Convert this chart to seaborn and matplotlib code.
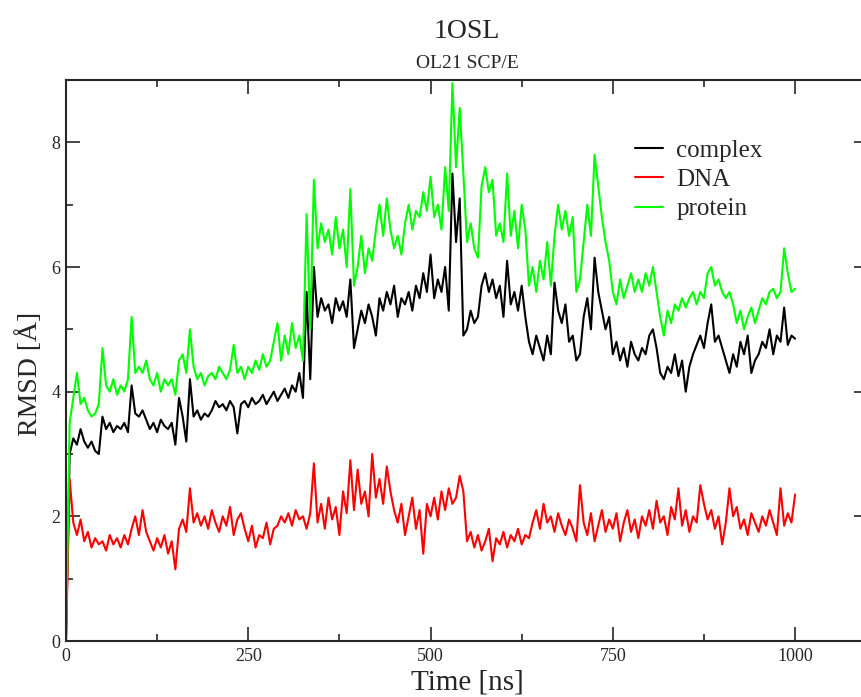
import numpy as np
import pandas as pd
import seaborn as sns
import matplotlib
import matplotlib.pyplot as plt
from matplotlib.ticker import MultipleLocator
matplotlib.use('Agg')

# time grid, one sample every 5 ns
time_ns = np.arange(0, 1001, 5)

# RMSD values (Angstrom)
complex_rmsd = [
    0.0, 3.0, 3.25, 3.15, 3.4, 3.2, 3.1, 3.2, 3.05, 3.0,
    3.6, 3.4, 3.5, 3.35, 3.45, 3.4, 3.5, 3.35, 4.1, 3.65,
    3.6, 3.7, 3.55, 3.4, 3.5, 3.35, 3.55, 3.45, 3.4, 3.5,
    3.15, 3.9, 3.6, 3.2, 4.2, 3.6, 3.7, 3.55, 3.65, 3.6,
    3.7, 3.85, 3.75, 3.8, 3.7, 3.85, 3.75, 3.33, 3.8, 3.85,
    3.75, 3.9, 3.8, 3.85, 3.95, 3.8, 3.9, 4.0, 3.85, 3.95,
    4.05, 3.9, 4.1, 4.0, 4.3, 3.9, 5.6, 4.2, 6.0, 5.2,
    5.5, 5.3, 5.4, 5.1, 5.5, 5.3, 5.45, 5.2, 5.8, 4.7,
    5.0, 5.3, 5.1, 5.4, 5.2, 4.9, 5.5, 5.3, 5.6, 5.4,
    5.7, 5.2, 5.5, 5.4, 5.6, 5.3, 5.7, 5.5, 5.9, 5.6,
    6.2, 5.5, 5.8, 5.6, 6.0, 5.3, 7.5, 6.4, 7.1, 4.9,
    5.0, 5.3, 5.1, 5.2, 5.7, 5.9, 5.6, 5.8, 5.5, 5.7,
    5.2, 6.1, 5.4, 5.6, 5.3, 5.7, 5.2, 4.8, 4.6, 4.9,
    4.7, 4.5, 4.9, 4.6, 5.75, 5.3, 5.1, 5.4, 4.8, 4.9,
    4.5, 4.6, 5.2, 5.5, 5.0, 6.15, 5.6, 5.3, 5.0, 5.2,
    4.6, 4.8, 4.5, 4.7, 4.4, 4.8, 4.6, 4.5, 4.7, 4.6,
    4.9, 5.0, 4.7, 4.3, 4.2, 4.4, 4.3, 4.6, 4.25, 4.5,
    4.0, 4.4, 4.6, 4.75, 4.9, 4.7, 5.1, 5.4, 4.8, 4.9,
    4.7, 4.5, 4.3, 4.6, 4.4, 4.8, 4.6, 4.9, 4.3, 4.5,
    4.6, 4.8, 4.7, 5.0, 4.6, 4.9, 4.8, 5.35, 4.75, 4.9,
    4.85,
]
dna_rmsd = [
    0.0, 2.6, 1.9, 1.7, 1.95, 1.6, 1.75, 1.5, 1.65, 1.55,
    1.6, 1.45, 1.7, 1.55, 1.65, 1.5, 1.7, 1.55, 1.8, 2.0,
    1.7, 2.1, 1.75, 1.6, 1.45, 1.65, 1.5, 1.7, 1.4, 1.6,
    1.15, 1.8, 1.95, 1.75, 2.45, 1.9, 2.05, 1.85, 2.0, 1.8,
    2.1, 1.9, 1.75, 2.0, 1.85, 2.15, 1.7, 1.95, 2.05, 1.8,
    1.6, 1.85, 1.5, 1.7, 1.65, 1.9, 1.55, 1.8, 1.85, 2.0,
    1.9, 2.05, 1.85, 2.1, 1.95, 2.0, 1.8, 2.05, 2.85, 1.9,
    2.2, 1.8, 2.3, 1.95, 2.15, 1.7, 2.4, 2.05, 2.9, 2.1,
    2.75, 2.2, 2.4, 2.0, 3.0, 2.3, 2.6, 2.2, 2.8, 2.4,
    2.1, 1.9, 2.2, 1.7, 2.0, 2.3, 1.8, 2.1, 1.4, 2.2,
    2.0, 2.3, 1.95, 2.4, 2.1, 2.45, 2.2, 2.3, 2.65, 2.4,
    1.6, 1.75, 1.5, 1.7, 1.45, 1.6, 1.8, 1.28, 1.65, 1.55,
    1.75, 1.5, 1.7, 1.6, 1.8, 1.55, 1.7, 1.65, 1.9, 2.1,
    1.8, 2.2, 1.9, 2.0, 1.75, 2.05, 1.85, 1.7, 1.95, 1.8,
    1.6, 2.5, 1.9, 1.7, 2.05, 1.6, 1.85, 2.1, 1.75, 1.95,
    1.8, 2.05, 1.6, 1.9, 2.1, 1.75, 1.95, 1.65, 2.0, 1.85,
    2.1, 1.8, 2.25, 1.9, 2.0, 1.7, 2.15, 1.95, 2.45, 1.85,
    2.1, 1.75, 2.0, 1.9, 2.5, 2.2, 1.95, 2.1, 1.8, 2.0,
    1.55, 1.9, 2.45, 2.0, 2.15, 1.8, 1.95, 1.7, 2.05, 1.9,
    1.75, 2.0, 1.85, 2.1, 1.9, 1.7, 2.45, 1.85, 2.05, 1.9,
    2.35,
]
protein_rmsd = [
    0.0, 3.5, 3.9, 4.3, 3.8, 3.9, 3.7, 3.6, 3.65, 3.8,
    4.7, 4.1, 4.0, 4.2, 3.95, 4.1, 4.0, 4.2, 5.2, 4.3,
    4.4, 4.3, 4.5, 4.2, 4.1, 4.3, 4.0, 4.2, 4.1, 4.2,
    3.95, 4.5, 4.6, 4.3, 5.0, 4.4, 4.2, 4.3, 4.1, 4.25,
    4.3, 4.2, 4.4, 4.3, 4.2, 4.35, 4.75, 4.3, 4.4, 4.2,
    4.4, 4.3, 4.5, 4.35, 4.6, 4.4, 4.5, 4.8, 5.1, 4.5,
    4.9, 4.6, 5.1, 4.7, 4.9, 4.5, 6.85, 5.0, 7.4, 6.3,
    6.7, 6.4, 6.6, 6.2, 6.8, 6.3, 6.6, 6.0, 7.25, 5.7,
    6.0, 6.5, 5.9, 6.3, 6.1, 6.6, 7.0, 6.5, 7.1, 6.6,
    6.3, 6.5, 6.2, 6.7, 7.0, 6.6, 6.9, 6.8, 7.2, 6.9,
    7.45, 6.8, 7.0, 6.6, 7.6, 6.9, 8.95, 7.6, 8.55, 7.5,
    6.4, 6.7, 6.3, 6.15, 7.3, 7.6, 7.2, 7.4, 6.5, 6.7,
    6.4, 7.5, 6.5, 6.9, 6.3, 7.0, 6.6, 5.7, 6.0, 5.6,
    6.1, 5.8, 6.4, 5.7, 6.5, 7.0, 6.6, 6.9, 6.5, 6.8,
    5.6, 5.8, 6.4, 7.0, 6.5, 7.8, 7.3, 6.8, 6.4, 6.1,
    5.6, 5.4, 5.8, 5.5, 5.7, 5.9, 5.6, 5.8, 5.6, 5.9,
    5.7, 6.0, 5.6, 5.2, 4.9, 5.3, 5.1, 5.4, 5.3, 5.5,
    5.35, 5.5, 5.6, 5.4, 5.6, 5.5, 5.9, 6.0, 5.7, 5.8,
    5.6, 5.5, 5.6, 5.4, 5.1, 5.3, 5.0, 5.2, 5.35, 5.1,
    5.3, 5.5, 5.4, 5.6, 5.65, 5.5, 5.6, 6.3, 5.9, 5.6,
    5.65,
]

series_names = ['complex', 'DNA', 'protein']
series_colors = {'complex': '#000000', 'DNA': '#ff0000', 'protein': '#00ff00'}

# long-form table for seaborn
df = pd.concat([
    pd.DataFrame({'time': time_ns, 'rmsd': complex_rmsd, 'series': 'complex'}),
    pd.DataFrame({'time': time_ns, 'rmsd': dna_rmsd, 'series': 'DNA'}),
    pd.DataFrame({'time': time_ns, 'rmsd': protein_rmsd, 'series': 'protein'}),
])

sns.set_style('ticks')
plt.rcParams['font.family'] = ['Liberation Serif', 'DejaVu Serif']

fig = plt.figure(figsize=(8.61, 6.97), dpi=100)
ax = fig.add_axes([66 / 861, 56 / 697, 802 / 861, 561 / 697])

sns.lineplot(data=df, x='time', y='rmsd', hue='series', hue_order=series_names,
             palette=series_colors, estimator=None, sort=False, linewidth=1.5,
             legend=False, ax=ax)

ax.set_xlim(0, 1100)
ax.set_ylim(0, 9)
ax.xaxis.set_major_locator(MultipleLocator(250))
ax.xaxis.set_minor_locator(MultipleLocator(125))
ax.yaxis.set_major_locator(MultipleLocator(2))
ax.yaxis.set_minor_locator(MultipleLocator(1))
ax.tick_params(which='both', direction='in', top=True, right=True, width=1.2, labelsize=13)
ax.tick_params(which='major', length=10)
ax.tick_params(which='minor', length=5)
ax.tick_params(axis='x', pad=5)
ax.tick_params(axis='y', pad=4)
for s in ax.spines.values():
    s.set_linewidth(1.5)

ax.set_xlabel('Time [ns]', fontsize=21)
ax.set_ylabel('RMSD [Å]', fontsize=20)
ax.xaxis.set_label_coords((467 - 66) / 802, -(683 - 641) / 561)
ax.yaxis.set_label_coords(-(66 - 30) / 802, (641 - 374) / 561)
ax.xaxis.label.set_va('center')
ax.yaxis.label.set_va('center')

fig.text(467 / 861, 1 - 38 / 697, '1OSL', ha='center', va='baseline', fontsize=20)
fig.text(467 / 861, 1 - 68 / 697, 'OL21 SCP/E', ha='center', va='baseline', fontsize=14)

ax.legend(handles=ax.get_lines()[:3], labels=series_names, loc='upper left',
          bbox_to_anchor=((635 - 66) / 802, (641 - 139) / 561), frameon=False,
          fontsize=18, handlelength=1.1, handletextpad=0.55, labelspacing=0.28,
          borderpad=0, borderaxespad=0)

plt.savefig('out.png', dpi=100)
plt.close()
